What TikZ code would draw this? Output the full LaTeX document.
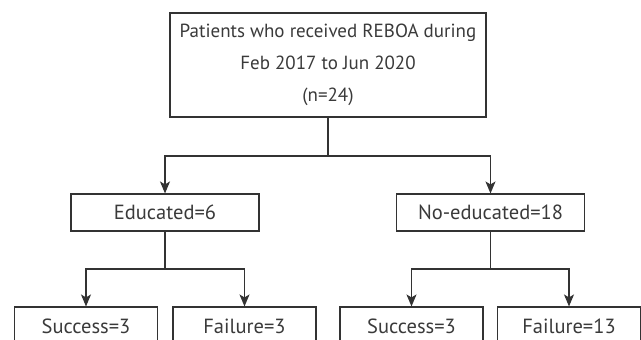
\documentclass[tikz,border=0pt]{standalone}
\usepackage{fontspec}
\setmainfont{PT Sans}
\usepackage{xcolor}
\usetikzlibrary{arrows.meta}
\definecolor{linegray}{HTML}{333333}
\definecolor{textgray}{HTML}{3A3A3A}

\begin{document}
\begin{tikzpicture}[x=1pt,y=-1pt,
        box/.style={draw=linegray, line width=1.1pt, text=textgray, align=center, inner sep=0pt,
                    font=\fontsize{20.5}{33}\selectfont},
        smallbox/.style={box, minimum width=143pt, minimum height=38pt},
        midbox/.style={box, minimum width=188pt, minimum height=37pt},
        link/.style={draw=linegray, line width=1.1pt, -{Stealth[length=12pt,width=10pt,inset=3pt]}}]
        \useasboundingbox (0,0) rectangle (641,340);
        \clip (0,0) rectangle (641,340);

        % all patients
        \node[box, minimum width=316pt, minimum height=104pt, font=\fontsize{19}{32}\selectfont] (all) at (328,65)
            {Patients who received REBOA during\\ Feb 2017 to Jun 2020\\ (n=24)};

        % education groups
        \node[midbox] (edu) at (165,212.5) {Educated=6};
        \node[midbox] (noedu) at (490.5,212.5) {No-educated=18};

        % outcomes
        \node[smallbox] (edusucc) at (86,326) {Success=3};
        \node[smallbox] (edufail) at (244.5,326) {Failure=3};
        \node[smallbox] (noedusucc) at (411.5,326) {Success=3};
        \node[smallbox] (noedufail) at (569,326) {Failure=13};

        \coordinate (split) at (328,156);
        \coordinate (edusplit) at (165,269);
        \coordinate (noedusplit) at (490.5,269);

        \draw[linegray, line width=1.1pt] (all) -- (split);
        \draw[link] (split) -| (edu);
        \draw[link] (split) -| (noedu);

        \draw[linegray, line width=1.1pt] (edu) -- (edusplit);
        \draw[link] (edusplit) -| (edusucc);
        \draw[link] (edusplit) -| (edufail);

        \draw[linegray, line width=1.1pt] (noedu) -- (noedusplit);
        \draw[link] (noedusplit) -| (noedusucc);
        \draw[link] (noedusplit) -| (noedufail);
    \end{tikzpicture}
\end{document}
